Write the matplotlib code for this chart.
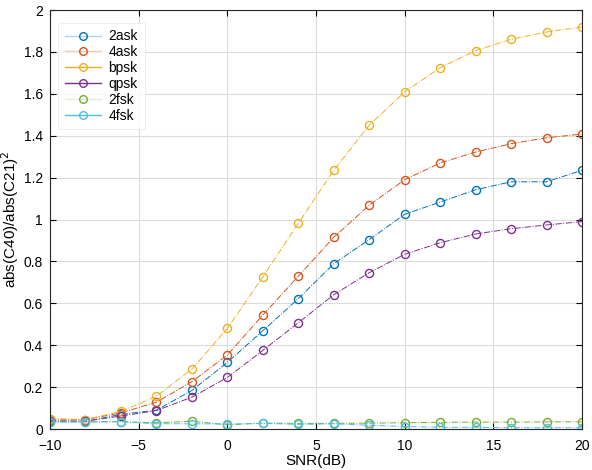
import matplotlib
matplotlib.use("Agg")
import matplotlib.pyplot as plt
from matplotlib.lines import Line2D
from matplotlib.colors import to_rgba
import numpy as np

plt.rcParams['font.family'] = ['Liberation Sans', 'DejaVu Sans']

snr = [-10, -8, -6, -4, -2, 0, 2, 4, 6, 8, 10, 12, 14, 16, 18, 20]
labels = ['2ask', '4ask', 'bpsk', 'qpsk', '2fsk', '4fsk']
ask2 = [0.037, 0.036, 0.07, 0.09, 0.184, 0.318, 0.469, 0.622, 0.789, 0.904, 1.025, 1.083, 1.142, 1.18, 1.18, 1.235]
ask4 = [0.048, 0.045, 0.077, 0.128, 0.226, 0.353, 0.544, 0.729, 0.915, 1.068, 1.19, 1.27, 1.322, 1.362, 1.39, 1.408]
bpsk = [0.048, 0.045, 0.084, 0.156, 0.286, 0.48, 0.726, 0.982, 1.235, 1.45, 1.609, 1.725, 1.806, 1.86, 1.895, 1.919]
qpsk = [0.04, 0.038, 0.062, 0.088, 0.152, 0.246, 0.375, 0.507, 0.641, 0.746, 0.834, 0.889, 0.931, 0.956, 0.974, 0.99]
fsk2 = [0.035, 0.035, 0.035, 0.03, 0.037, 0.02, 0.028, 0.027, 0.027, 0.028, 0.03, 0.032, 0.033, 0.033, 0.034, 0.034]
fsk4 = [0.033, 0.033, 0.035, 0.025, 0.025, 0.024, 0.027, 0.022, 0.025, 0.018, 0.012, 0.008, 0.008, 0.006, 0.006, 0.006]

series = [ask2, ask4, bpsk, qpsk, fsk2, fsk4]
colors = ['#0072BD', '#D95319', '#EDB120', '#7E2F8E', '#77AC30', '#4DBEEE']
legend_alpha = [0.3, 0.3, 1.0, 1.0, 0.2, 1.0]

fig = plt.figure(figsize=(5.92, 4.70), dpi=100)
ax = fig.add_axes([0.0845, 0.0872, 0.8986, 0.8915])

for y, c in zip(series, colors):
    ax.plot(snr, y, linestyle='-.', linewidth=0.7, color=c, marker='o',
            markersize=5.8, markerfacecolor='none', markeredgecolor=c, markeredgewidth=1.0)

ax.set_xlim(-10, 20)
ax.set_ylim(0, 2)
ax.set_xticks([-10, -5, 0, 5, 10, 15, 20])
ax.set_yticks(np.arange(0, 2.01, 0.2))
ax.set_yticklabels(['0', '0.2', '0.4', '0.6', '0.8', '1', '1.2', '1.4', '1.6', '1.8', '2'])
ax.grid(True, color='#dcdcdc', linewidth=0.8)
ax.set_axisbelow(True)
ax.tick_params(direction='in', labelsize=10, length=4, top=True, right=True)
ax.tick_params(axis='y', pad=5)
ax.tick_params(axis='x', pad=7)
for s in ax.spines.values():
    s.set_linewidth(0.8)
    s.set_color('#262626')
ax.set_xlabel('SNR(dB)', fontsize=11, labelpad=1)
ax.set_ylabel('abs(C40)/abs(C21)$^2$', fontsize=11, labelpad=2)

handles = [Line2D([0], [0], color=to_rgba(c, a), linewidth=1.0, marker='o', markersize=5.5,
                  markerfacecolor='none', markeredgecolor=c, markeredgewidth=1.0)
           for c, a in zip(colors, legend_alpha)]
leg = ax.legend(handles, labels, loc='upper left', fontsize=10, frameon=True,
                fancybox=False, edgecolor='#e8e8e8', handlelength=2.6,
                borderaxespad=0.6, labelspacing=0.13, handletextpad=0.5,
                borderpad=0.5, bbox_to_anchor=(0.0, 0.99))
leg.get_frame().set_linewidth(0.6)

fig.savefig('out.png', dpi=100)
